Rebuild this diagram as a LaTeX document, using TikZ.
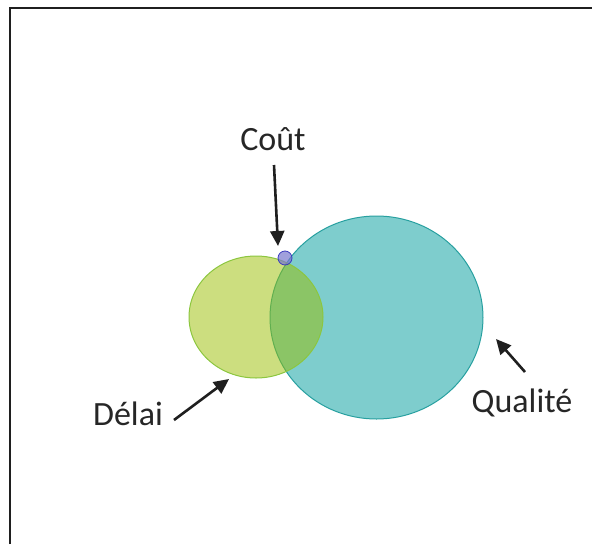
\documentclass[tikz,border=0pt]{standalone}
\usepackage{fontspec}
\setmainfont{Carlito}
\usetikzlibrary{arrows.meta,shapes.geometric}
\definecolor{delaifill}{RGB}{153,190,0}
\definecolor{delaiedge}{RGB}{140,198,63}
\definecolor{qualfill}{RGB}{126,205,205}
\definecolor{qualedge}{RGB}{40,160,160}
\definecolor{coutfill}{RGB}{120,120,205}
\definecolor{coutedge}{RGB}{60,60,190}
\tikzset{
    blob/.style = {ellipse, inner sep = 0pt, line width = 1pt},
    lbl/.style = {font = \fontsize{34}{40}\selectfont, text = black!85, inner sep = 0pt},
    pointer/.style = {-{Triangle[length = 15pt, width = 14pt]}, line width = 2.6pt, black!88}
}
\begin{document}
\begin{tikzpicture}[
        x = 1pt,
        y = -1pt
    ]
        \useasboundingbox (0,0) rectangle (592,544);
        % frame
        \draw[line width = 2pt, black!88] (10,544)--(10,8)--(592,8);
        % the three sets
        \node[blob, draw = qualedge, fill = qualfill,
            minimum width = 213pt, minimum height = 203pt] (qualite) at (376.5,317.5) {};
        \node[blob, draw = delaiedge, fill = delaifill, fill opacity = .5,
            minimum width = 134pt, minimum height = 122pt] (delai) at (256,317) {};
        \node[circle, draw = coutedge, fill = coutfill, fill opacity = .7, inner sep = 0pt,
            line width = .8pt, minimum size = 14pt] (cout) at (285,258) {};
        % labels
        \node[lbl] (coutlbl) at (273,139) {Coût};
        \node[lbl] (delailbl) at (128,414) {Délai};
        \node[lbl] (qualitelbl) at (522,403) {Qualité};
        % arrows
        \coordinate (cout-a) at (274,165);
        \coordinate (cout-b) at (278,246);
        \coordinate (delai-a) at (174,420);
        \coordinate (delai-b) at (229,379);
        \coordinate (qualite-a) at (525,372);
        \coordinate (qualite-b) at (496,339);
        \draw[pointer] (cout-a)--(cout-b);
        \draw[pointer] (delai-a)--(delai-b);
        \draw[pointer] (qualite-a)--(qualite-b);
    \end{tikzpicture}
\end{document}
